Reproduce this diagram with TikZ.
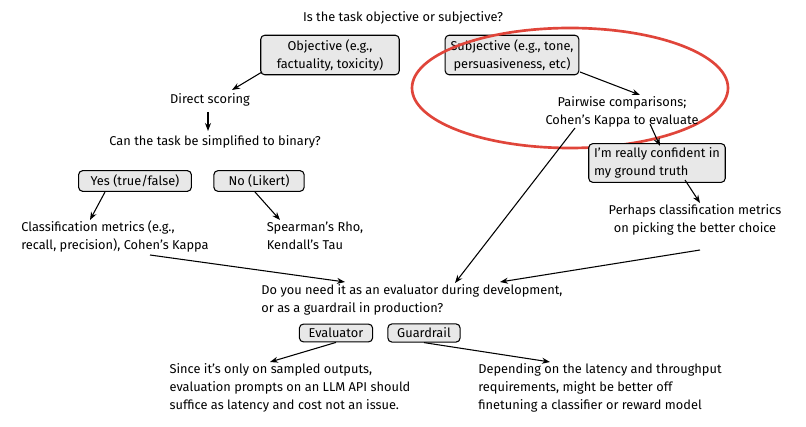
\documentclass[tikz,border=0pt]{standalone}
\usepackage{fontspec}
\setmainfont{Fira Sans}
\usetikzlibrary{arrows.meta}
\definecolor{ered}{HTML}{E0453A}
\begin{document}
\begin{tikzpicture}[x=0.75pt,y=-0.75pt,
  txt/.style={font=\fontsize{9.6}{13.5}\selectfont, align=left, inner sep=1pt},
  ctxt/.style={txt, align=center},
  box/.style={ctxt, draw, thick, rounded corners=3pt, fill=gray!18, inner ysep=3pt, inner xsep=9pt},
  arr/.style={-{Stealth[length=6pt]}, thick}]
\useasboundingbox (0,0) rectangle (806,427);
\node[ctxt] (t) at (403,18) {Is the task objective or subjective?};
\node[box, inner xsep=12pt] (obj) at (330,55) {Objective (e.g.,\\factuality, toxicity)};
\node[box, inner xsep=4pt] (sub) at (512,55) {Subjective (e.g., tone,\\persuasiveness, etc)};
\draw[ered, line width=2pt] (570,88) ellipse (158 and 60);
\node[txt] (ds) at (210,100) {Direct scoring};
\node[ctxt] (pw) at (622,112) {Pairwise comparisons;\\Cohen's Kappa to evaluate};
\node[ctxt] (bin) at (215,142) {Can the task be simplified to binary?};
\node[box] (yes) at (135,181) {Yes (true/false)};
\node[box, inner xsep=11pt] (no) at (259,181) {No (Likert)};
\node[box, align=left, inner xsep=4pt] (conf) at (657,163) {I'm really confident in\\my ground truth};
\node[txt] (cm) at (115,236) {Classification metrics (e.g.,\\recall, precision), Cohen's Kappa};
\node[txt] (sp) at (315,236) {Spearman's Rho,\\Kendall's Tau};
\node[ctxt] (ph) at (695,220) {Perhaps classification metrics\\on picking the better choice};
\node[txt] (dy) at (412,300) {Do you need it as an evaluator during development,\\or as a guardrail in production?};
\node[box, inner xsep=7pt] (ev) at (336,333) {Evaluator};
\node[box, inner xsep=7pt] (gr) at (424,333) {Guardrail};
\node[txt] (si) at (290,388) {Since it's only on sampled outputs,\\evaluation prompts on an LLM API should\\suffice as latency and cost not an issue.};
\node[txt] (de) at (600,388) {Depending on the latency and throughput\\requirements, might be better off\\finetuning a classifier or reward model};
\coordinate (a1) at (262,72);
\coordinate (a2) at (580,72);
\draw[arr] (a1) -- (232,90);
\draw[arr] (a2) -- (640,95);
\draw[arr] (208,112) -- (208,131);
\draw[arr] (105,192) -- (90,220);
\draw[arr] (255,192) -- (280,220);
\draw[arr] (650,124) -- (660,146);
\draw[arr] (575,128) -- (455,283);
\draw[arr] (685,180) -- (700,203);
\draw[arr] (150,255) -- (345,282);
\draw[arr] (700,250) -- (500,282);
\draw[arr] (ev.south) -- (270,362);
\draw[arr] (gr.south) -- (550,362);
\end{tikzpicture}
\end{document}
